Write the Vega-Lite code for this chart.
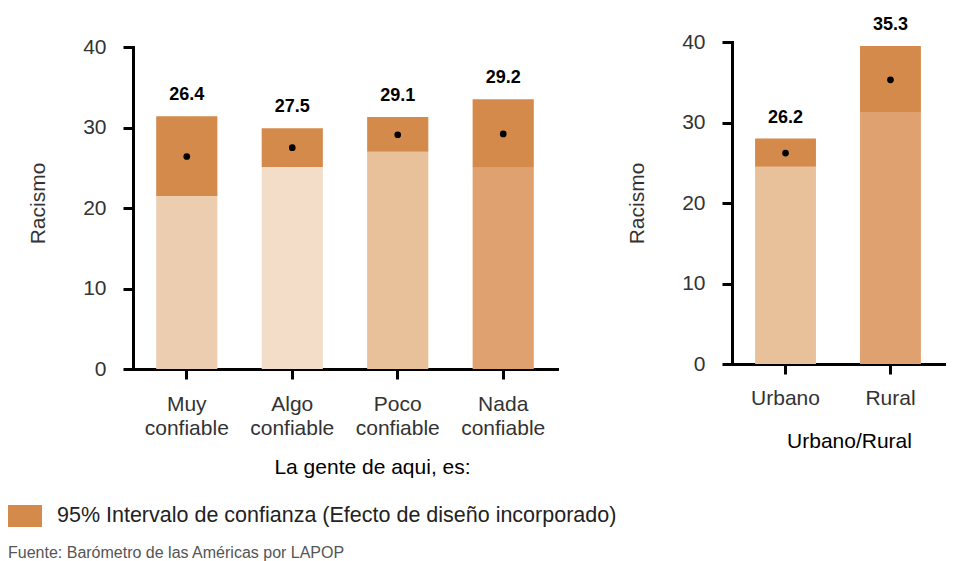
{
  "$schema": "https://vega.github.io/schema/vega-lite/v6.json",
  "width": 820,
  "height": 327,
  "autosize": {"type": "none"},
  "padding": {"left": 133, "top": 42, "right": 1, "bottom": 192},
  "config": {
    "view": {"stroke": null},
    "font": "Liberation Sans",
    "axis": {
      "domainColor": "#000", "domainWidth": 3, "domainCap": "square",
      "tickColor": "#000", "tickWidth": 3, "tickSize": 10,
      "labelFontSize": 21, "labelColor": "#333", "labelFont": "Liberation Sans",
      "titleFont": "Liberation Sans", "titleFontWeight": "normal", "titleFontSize": 21,
      "grid": false
    }
  },
  "layer": [
    {
      "data": {"values": [
        {"cat": "Muy confiable", "mean": 26.4, "lo": 21.5, "hi": 31.4},
        {"cat": "Algo confiable", "mean": 27.5, "lo": 25.1, "hi": 29.9},
        {"cat": "Poco confiable", "mean": 29.1, "lo": 27.0, "hi": 31.3},
        {"cat": "Nada confiable", "mean": 29.2, "lo": 25.0, "hi": 33.5}
      ]},
      "encoding": {
        "x": {
          "field": "cat", "type": "nominal",
          "scale": {"domain": ["Muy confiable", "Algo confiable", "Poco confiable", "Nada confiable"], "range": [0, 424], "paddingInner": 0.42, "paddingOuter": 0.22},
          "axis": {"orient": "bottom", "labelAngle": 0, "labelExpr": "split(datum.label, ' ')", "labelLineHeight": 24, "labelPadding": 14,
                   "title": "La gente de aqui, es:", "titleX": 239, "titleY": 98, "titleBaseline": "middle", "titleAlign": "center", "titleColor": "#000"}
        }
      },
      "layer": [
        {
          "mark": {"type": "bar"},
          "encoding": {
            "y": {"field": "lo", "type": "quantitative",
                  "scale": {"domain": [0, 40], "range": [327, 5], "nice": false},
                  "axis": {"orient": "left", "values": [0, 10, 20, 30, 40], "labelPadding": 17,
                           "title": "Racismo", "titleX": -95, "titleY": 161, "titleAngle": -90, "titleAlign": "center", "titleBaseline": "middle", "titleColor": "#333"}},
            "fill": {"field": "cat", "type": "nominal",
                     "scale": {"domain": ["Muy confiable", "Algo confiable", "Poco confiable", "Nada confiable", "Urbano", "Rural"],
                               "range": ["#EDCDB0", "#F3DCC8", "#E8C09A", "#DFA170", "#E8C09A", "#DFA170"]},
                     "legend": null}
          }
        },
        {
          "mark": {"type": "bar"},
          "encoding": {
            "y": {"field": "lo", "type": "quantitative"},
            "y2": {"field": "hi"},
            "color": {"datum": "95% Intervalo de confianza (Efecto de diseño incorporado)",
                      "scale": {"range": ["#D48A4B"]},
                      "legend": {"orient": "none", "legendX": -125, "legendY": 457, "padding": 0,
                                 "symbolType": "M-1,-0.65H1V0.65H-1Z", "symbolSize": 1156, "symbolStrokeWidth": 0, "symbolOpacity": 1,
                                 "labelFontSize": 21.5, "labelColor": "#222", "labelOffset": 15, "labelLimit": 800,
                                 "title": "Fuente: Barómetro de las Américas por LAPOP", "titleOrient": "bottom", "titleAnchor": "start",
                                 "titleFontSize": 16, "titleFontWeight": "normal", "titleColor": "#555", "titlePadding": 18, "titleLimit": 800, "titleBaseline": "top"}}
          }
        },
        {
          "mark": {"type": "point", "filled": true, "color": "#000", "size": 45, "opacity": 1},
          "encoding": {"y": {"field": "mean", "type": "quantitative"}}
        },
        {
          "mark": {"type": "text", "fontWeight": "bold", "fontSize": 18, "dy": -16, "baseline": "alphabetic", "color": "#000"},
          "encoding": {
            "y": {"field": "hi", "type": "quantitative"},
            "text": {"field": "mean", "type": "quantitative", "format": ".1f"}
          }
        }
      ]
    },
    {
      "data": {"values": [
        {"cat": "Urbano", "mean": 26.2, "lo": 24.5, "hi": 28.0},
        {"cat": "Rural", "mean": 35.3, "lo": 31.3, "hi": 39.5}
      ]},
      "encoding": {
        "x": {
          "field": "cat", "type": "nominal",
          "scale": {"domain": ["Urbano", "Rural"], "range": [599, 811], "paddingInner": 0.42, "paddingOuter": 0.22},
          "axis": {"orient": "bottom", "offset": -5, "labelAngle": 0, "labelPadding": 13,
                   "title": "Urbano/Rural", "titleX": 716, "titleY": 77, "titleBaseline": "middle", "titleAlign": "center", "titleColor": "#000"}
        }
      },
      "layer": [
        {
          "mark": {"type": "bar"},
          "encoding": {
            "y": {"field": "lo", "type": "quantitative",
                  "scale": {"domain": [0, 40], "range": [322, 0], "nice": false},
                  "axis": {"orient": "left", "offset": -599, "values": [0, 10, 20, 30, 40], "labelPadding": 17,
                           "title": "Racismo", "titleX": -95, "titleY": 161, "titleAngle": -90, "titleAlign": "center", "titleBaseline": "middle", "titleColor": "#333"}},
            "fill": {"field": "cat", "type": "nominal",
                     "scale": {"domain": ["Muy confiable", "Algo confiable", "Poco confiable", "Nada confiable", "Urbano", "Rural"],
                               "range": ["#EDCDB0", "#F3DCC8", "#E8C09A", "#DFA170", "#E8C09A", "#DFA170"]},
                     "legend": null}
          }
        },
        {
          "mark": {"type": "bar"},
          "encoding": {
            "y": {"field": "lo", "type": "quantitative"},
            "y2": {"field": "hi"},
            "color": {"datum": "95% Intervalo de confianza (Efecto de diseño incorporado)"}
          }
        },
        {
          "mark": {"type": "point", "filled": true, "color": "#000", "size": 45, "opacity": 1},
          "encoding": {"y": {"field": "mean", "type": "quantitative"}}
        },
        {
          "mark": {"type": "text", "fontWeight": "bold", "fontSize": 18, "dy": -16, "baseline": "alphabetic", "color": "#000"},
          "encoding": {
            "y": {"field": "hi", "type": "quantitative"},
            "text": {"field": "mean", "type": "quantitative", "format": ".1f"}
          }
        }
      ]
    }
  ],
  "resolve": {
    "scale": {"x": "independent", "y": "independent"},
    "axis": {"x": "independent", "y": "independent"}
  }
}
